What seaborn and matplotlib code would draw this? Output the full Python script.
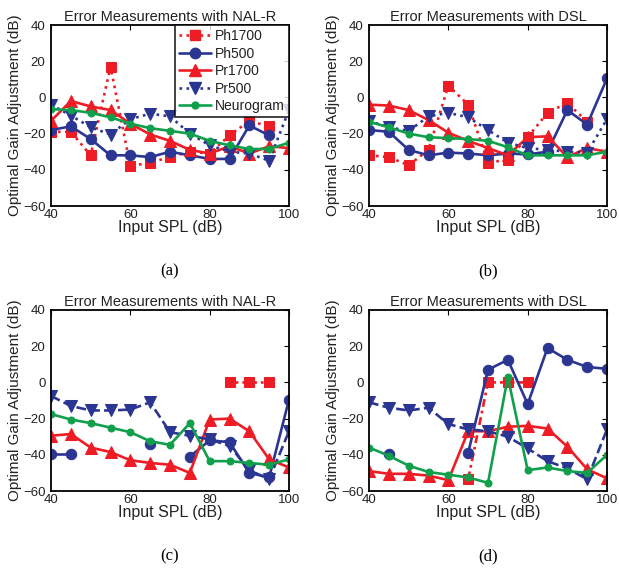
import numpy as np
import pandas as pd
import matplotlib
matplotlib.use("Agg")
import matplotlib.pyplot as plt
from matplotlib.lines import Line2D
import seaborn as sns

sns.set_theme(style="white")
plt.rcParams["font.family"] = ["Liberation Sans", "DejaVu Sans"]

nan = np.nan
spl = [40, 45, 50, 55, 60, 65, 70, 75, 80, 85, 90, 95, 100]

# (a) NAL-R
a_ph1700 = [-19, -19, -32, 17, -38, -36, -33, -30, -31, -21, -13, -16, nan]
a_ph500 = [-18, -16, -23, -32, -32, -33, -30, -32, -34, -34, -15.5, -21, nan]
a_pr1700 = [-13, -2, -5, -7, -14.5, -20.5, -24, -29, -31, -27, -31, -27, -28]
a_pr500 = [-4, -10, -16.5, -20.5, -12, -9, -10.5, -20, -26.5, -30, -31, -35, -7]
a_neuro = [-6.5, -7, -8.5, -11, -14.5, -17, -18.5, -20, -24, -26.5, -28.5, -28.5, -25]

# (b) DSL
b_ph1700 = [-32, -33, -37.5, -29, 6.5, -4, -36, -34.5, -22, -8.5, -3, -13.5, nan]
b_ph500 = [-18, -19, -29, -32, -30.5, -31, -32, -31, -31.5, -30, -7, -15, 10.5]
b_pr1700 = [-4, -4.5, -7, -12.5, -19.5, -24, -28, -32, -22, -21.5, -33, -28, -30]
b_pr500 = [-13, -16.5, -18.5, -10.5, -8.5, -11, -18, -25, -28, -29, -30, -30.5, -12]
b_neuro = [-13.5, -16.5, -20, -22, -22.5, -23, -24, -27.5, -32, -32, -32, -32, -30]

# (c) NAL-R
c_ph1700 = [nan, nan, nan, nan, nan, nan, nan, nan, nan, 0, 0, 0, nan]
c_ph500 = [-39.5, -39.5, nan, nan, nan, -34, nan, -41, -32, -33, -50, -52.5, -9.5]
c_pr1700 = [-29.5, -28.5, -36, -38.5, -43, -44.5, -45.5, -50, -20.5, -20, -27, -42.5, -47]
c_pr500 = [-7.5, -13, -15.5, -15.5, -15, -11, -27.5, -29.5, -31.5, -35, -48.5, -53.5, -27]
c_neuro = [-17.5, -20.5, -22.5, -25, -27.5, -32.5, -34.5, -22.5, -43.5, -43.5, -44.5, -45.5, -42.5]

# (d) DSL
d_ph1700 = [nan, nan, nan, nan, nan, -53.5, 0, 0, 0, nan, nan, nan, nan]
d_ph500 = [nan, -39.5, nan, nan, nan, -39, 7, 12.5, -12, 19, 12.5, 8.5, 7.5]
d_pr1700 = [-49, -50.5, -50.5, -51.5, -54, -27, -27, -24.5, -24, -25.5, -35.5, -48, -53]
d_pr500 = [-11, -14, -15.5, -14, -23, -26, -27, -30, -36.5, -43.5, -47.5, -53.5, -26]
d_neuro = [-36, -40.5, -46, -49.5, -51, -52.5, -55.5, 3, -48.5, -47, -49, -50, -40]

titles = ["Error Measurements with NAL-R", "Error Measurements with DSL",
          "Error Measurements with NAL-R", "Error Measurements with DSL"]
panel_tags = ["(a)", "(b)", "(c)", "(d)"]
names = ["Ph1700", "Ph500", "Pr1700", "Pr500", "Neurogram"]
panels = [
    [a_ph1700, a_ph500, a_pr1700, a_pr500, a_neuro],
    [b_ph1700, b_ph500, b_pr1700, b_pr500, b_neuro],
    [c_ph1700, c_ph500, c_pr1700, c_pr500, c_neuro],
    [d_ph1700, d_ph500, d_pr1700, d_pr500, d_neuro],
]

RED = "#ee1d25"
BLUE = "#2b3592"
GREEN = "#10a04c"
colors = [RED, BLUE, RED, BLUE, GREEN]
markers = ["s", "o", "^", "v", "o"]
msizes = [6.5, 7.5, 8.5, 8.5, 5]
styles_top = [":", "-", "-", ":", "-"]
styles_bot = [(0, (3, 1.5, 1, 1.5)), "-", "-", "--", "-"]


def segments(x, y):
    # split a series at NaN gaps so seaborn does not bridge them
    df = pd.DataFrame({"x": x, "y": y})
    df["seg"] = df["y"].isna().cumsum()
    return df.dropna()


fig = plt.figure(figsize=(6.19, 5.68), dpi=100)
lefts = [51 / 619, 369 / 619]
bottoms = [1 - 206 / 568, 1 - 491 / 568]
w, h = 238 / 619, 181 / 568

for i, series in enumerate(panels):
    ax = fig.add_axes([lefts[i % 2], bottoms[i // 2], w, h])
    ls = styles_top if i < 2 else styles_bot
    for k, vals in enumerate(series):
        df = segments(spl, vals)
        sns.lineplot(data=df, x="x", y="y", units="seg", estimator=None, ax=ax,
                     color=colors[k], linestyle=ls[k], linewidth=1.9,
                     marker=markers[k], markersize=msizes[k],
                     markeredgecolor=colors[k], markerfacecolor=colors[k],
                     sort=False, legend=False)
    ax.set_xlim(40, 100)
    ax.set_ylim(-60, 40)
    ax.set_xticks([40, 60, 80, 100])
    ax.set_yticks([-60, -40, -20, 0, 20, 40])
    ax.tick_params(direction="in", top=True, right=True, length=3.5, width=0.8,
                   labelsize=9.5, colors="black", labelcolor="#222222")
    ax.tick_params(axis="x", pad=2.5)
    ax.tick_params(axis="y", pad=4)
    for sp in ax.spines.values():
        sp.set_color("black")
        sp.set_linewidth(1.3)
    ax.set_title(titles[i], fontsize=10.5, color="#222222", pad=3)
    ax.set_xlabel("Input SPL (dB)", fontsize=11.5, color="#222222", labelpad=-1)
    ax.set_ylabel("Optimal Gain Adjustment (dB)", fontsize=11, color="#222222", labelpad=1)
    ax.text(0.5, -0.36, panel_tags[i], transform=ax.transAxes, ha="center", va="center",
            fontsize=12, family=["Liberation Serif", "DejaVu Serif"], color="black")

    if i == 0:
        handles = [Line2D([], [], color=colors[k], linestyle=styles_top[k], linewidth=1.9,
                          marker=markers[k], markersize=msizes[k]) for k in range(5)]
        leg = ax.legend(handles, names, loc="upper right", fontsize=10, frameon=True,
                        fancybox=False, borderpad=0.3, labelspacing=0.25,
                        handlelength=2.3, handletextpad=0.3, borderaxespad=0.0)
        leg.get_frame().set_edgecolor("black")
        leg.get_frame().set_linewidth(1.3)
        for t in leg.get_texts():
            t.set_color("#222222")

fig.savefig("out.png", dpi=100)
